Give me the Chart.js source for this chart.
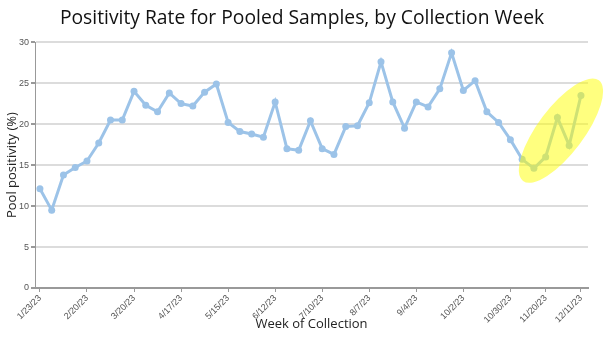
<!DOCTYPE html>
<html>
<head>
<meta charset="utf-8">
<script src="https://cdn.jsdelivr.net/npm/chart.js@4/dist/chart.umd.min.js"></script>
<style>
  html, body { margin: 0; padding: 0; background: #fff; }
  #wrap { width: 604px; height: 338px; position: relative; }
</style>
</head>
<body>
<div id="wrap"><canvas id="c" width="604" height="338"></canvas></div>
<script>
// ---- data ----
const weeks = [
  '1/23/23','1/30/23','2/6/23','2/13/23','2/20/23','2/27/23','3/6/23','3/13/23',
  '3/20/23','3/27/23','4/3/23','4/10/23','4/17/23','4/24/23','5/1/23','5/8/23',
  '5/15/23','5/22/23','5/29/23','6/5/23','6/12/23','6/19/23','6/26/23','7/3/23',
  '7/10/23','7/17/23','7/24/23','7/31/23','8/7/23','8/14/23','8/21/23','8/28/23',
  '9/4/23','9/11/23','9/18/23','9/25/23','10/2/23','10/9/23','10/16/23','10/23/23',
  '10/30/23','11/6/23','11/13/23','11/20/23','11/27/23','12/4/23','12/11/23'
];
const positivity = [
  12.1, 9.5, 13.8, 14.7, 15.5, 17.7, 20.5, 20.5,
  24.0, 22.3, 21.5, 23.8, 22.5, 22.2, 23.9, 24.9,
  20.2, 19.1, 18.8, 18.4, 22.7, 17.0, 16.8, 20.4,
  17.0, 16.3, 19.7, 19.8, 22.6, 27.6, 22.7, 19.5,
  22.7, 22.1, 24.3, 28.7, 24.1, 25.3, 21.5, 20.2,
  18.1, 15.7, 14.6, 16.0, 20.8, 17.4, 23.5
];
const tickWeekIndex = [0, 4, 8, 12, 16, 20, 24, 28, 32, 36, 40, 43, 46];
const yTicks = [0, 5, 10, 15, 20, 25, 30];
const highlightCenter = { week: 44.3, value: 19.2 };

const points = positivity.map((v, i) => ({ x: i, y: v }));

const highlightPlugin = {
  id: 'highlight',
  afterDatasetsDraw(chart) {
    const { ctx, scales } = chart;
    const cx = scales.x.getPixelForValue(highlightCenter.week);
    const cy = scales.y.getPixelForValue(highlightCenter.value);
    ctx.save();
    ctx.fillStyle = 'rgba(255,255,0,0.5)';
    ctx.beginPath();
    ctx.ellipse(cx, cy, 63, 23, -53 * Math.PI / 180, 0, Math.PI * 2);
    ctx.fill();
    ctx.restore();
  }
};

new Chart(document.getElementById('c'), {
  type: 'line',
  data: {
    datasets: [{
      data: points,
      borderColor: '#9cc3e8',
      backgroundColor: '#9cc3e8',
      borderWidth: 3,
      pointRadius: 3.5,
      pointHoverRadius: 3.5,
      pointBorderWidth: 0,
      tension: 0
    }]
  },
  options: {
    responsive: false,
    animation: false,
    devicePixelRatio: 1,
    layout: { padding: 0 },
    plugins: {
      legend: { display: false },
      tooltip: { enabled: false },
      title: {
        display: true,
        text: 'Positivity Rate for Pooled Samples, by Collection Week',
        color: '#111',
        font: { family: 'Open Sans', size: 19.3, weight: 'normal' },
        padding: { top: 7, bottom: 12 }
      }
    },
    scales: {
      x: {
        type: 'linear',
        min: -0.42,
        max: 46.6,
        afterBuildTicks(scale) { scale.ticks = tickWeekIndex.map(v => ({ value: v })); },
        afterFit(scale) { scale.height = 50; },
        grid: { drawOnChartArea: false, color: 'transparent', tickColor: '#999', tickLength: 4 },
        border: { color: '#999', width: 2 },
        ticks: {
          minRotation: 45, maxRotation: 45, autoSkip: false, padding: 1,
          color: '#555',
          font: { family: 'Liberation Sans', size: 9 },
          callback: (v) => weeks[v]
        },
        title: {
          display: true, text: 'Week of Collection', color: '#222',
          font: { family: 'Open Sans', size: 13 },
          padding: { top: 4, bottom: 6 }
        }
      },
      y: {
        min: 0, max: 30,
        afterBuildTicks(scale) { scale.ticks = yTicks.map(v => ({ value: v })); },
        afterFit(scale) { scale.width = 35; },
        grid: { color: '#dcdcdc', lineWidth: 2, tickColor: '#999', tickLength: 4 },
        border: { color: '#999', width: 1 },
        ticks: {
          padding: 2, color: '#555',
          font: { family: 'Liberation Sans', size: 9 }
        },
        title: {
          display: true, text: 'Pool positivity (%)', color: '#222',
          font: { family: 'Open Sans', size: 13 },
          padding: { top: 4, bottom: 4 }
        }
      },
      spacer: {
        position: 'right',
        min: 0, max: 30,
        afterFit(scale) { scale.width = 16; },
        grid: { drawOnChartArea: false, display: false },
        border: { display: false },
        ticks: { display: false }
      }
    }
  },
  plugins: [highlightPlugin]
});
</script>
</body>
</html>
